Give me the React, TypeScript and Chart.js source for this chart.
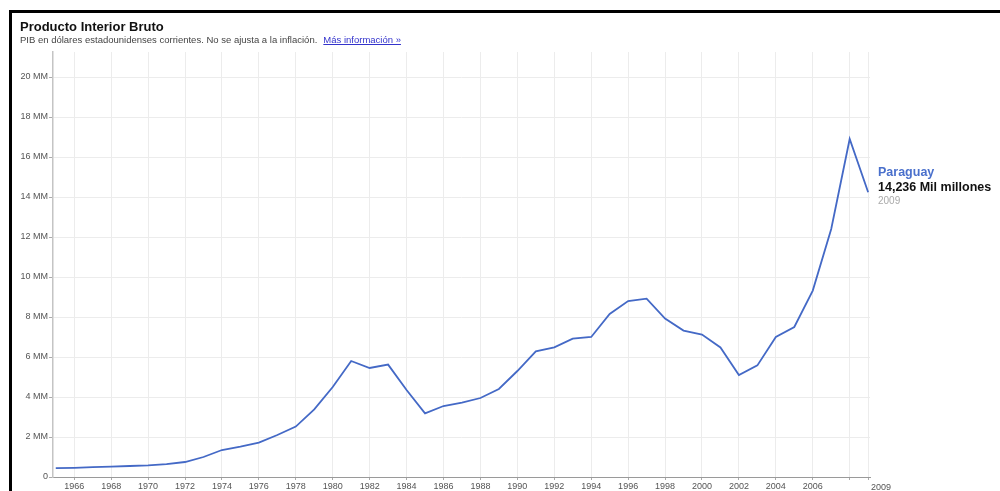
import React, { useEffect, useRef } from "react";
import { Chart, registerables } from "chart.js";

Chart.register(...registerables);

const years = [
  1965, 1966, 1967, 1968, 1969, 1970, 1971, 1972, 1973, 1974,
  1975, 1976, 1977, 1978, 1979, 1980, 1981, 1982, 1983, 1984,
  1985, 1986, 1987, 1988, 1989, 1990, 1991, 1992, 1993, 1994,
  1995, 1996, 1997, 1998, 1999, 2000, 2001, 2002, 2003, 2004,
  2005, 2006, 2007, 2008, 2009,
];

// GDP, billions of current US$ ("MM")
const gdpParaguay = [
  0.44, 0.46, 0.49, 0.52, 0.55, 0.58, 0.64, 0.75, 1.0, 1.35,
  1.52, 1.72, 2.1, 2.52, 3.38, 4.5, 5.8, 5.45, 5.62, 4.35,
  3.18, 3.55, 3.72, 3.95, 4.4, 5.3, 6.28, 6.48, 6.92, 7.0,
  8.15, 8.8, 8.92, 7.92, 7.32, 7.12, 6.48, 5.1, 5.58, 7.0,
  7.5, 9.32, 12.4, 16.9, 14.24,
];

const yTicks = [0, 2, 4, 6, 8, 10, 12, 14, 16, 18, 20];
const xTicks = [
  1966, 1968, 1970, 1972, 1974, 1976, 1978, 1980, 1982, 1984, 1986,
  1988, 1990, 1992, 1994, 1996, 1998, 2000, 2002, 2004, 2006, 2008, 2009,
];
const xLabelHidden = [2008, 2009];
const lastYearLabel = "2009";

const titleText = "Producto Interior Bruto";
const subtitleText =
  "PIB en dólares estadounidenses corrientes. No se ajusta a la inflación.";
const linkText = "Más información »";
const seriesName = "Paraguay";
const seriesValueText = "14,236 Mil millones";
const seriesYearText = "2009";

const FONT = "'Liberation Sans', Arial, sans-serif";
const LINE_COLOR = "#4469c6";

export default function App() {
  const canvasRef = useRef<HTMLCanvasElement | null>(null);

  useEffect(() => {
    if (!canvasRef.current) return;
    const endLabel = {
      id: "endLabel",
      afterDraw(chart: any) {
        const { ctx, chartArea } = chart;
        ctx.save();
        ctx.font = `9px ${FONT}`;
        ctx.fillStyle = "#555";
        ctx.textAlign = "left";
        ctx.textBaseline = "top";
        ctx.fillText(lastYearLabel, chartArea.right + 1, chartArea.bottom + 6);
        ctx.restore();
      },
    };
    const chart = new Chart(canvasRef.current, {
      type: "line",
      data: {
        datasets: [
          {
            label: seriesName,
            data: years.map((y, i) => ({ x: y, y: gdpParaguay[i] })),
            borderColor: LINE_COLOR,
            borderWidth: 1.8,
            pointRadius: 0,
            tension: 0,
            fill: false,
          },
        ],
      },
      options: {
        animation: false,
        responsive: false,
        maintainAspectRatio: false,
        devicePixelRatio: 1,
        layout: { padding: { left: 0, top: 52, right: 130, bottom: 0 } },
        plugins: { legend: { display: false }, tooltip: { enabled: false } },
        scales: {
          x: {
            type: "linear",
            min: 1964.85,
            max: 2009.1,
            afterBuildTicks: (s: any) => {
              s.ticks = xTicks.map((v) => ({ value: v }));
            },
            afterFit: (s: any) => {
              s.height = 14;
            },
            ticks: {
              autoSkip: false,
              maxRotation: 0,
              padding: 1,
              font: { family: FONT, size: 9 },
              color: "#555",
              callback: (v: any) =>
                xLabelHidden.includes(Number(v)) ? "" : String(v),
            },
            grid: {
              color: "#ececec",
              lineWidth: 1,
              tickLength: 3,
              tickColor: "#aaa",
            },
            border: { color: "#9a9a9a", width: 1 },
          },
          y: {
            type: "linear",
            min: 0,
            max: 21.25,
            afterBuildTicks: (s: any) => {
              s.ticks = yTicks.map((v) => ({ value: v }));
            },
            afterFit: (s: any) => {
              s.width = 53;
            },
            ticks: {
              padding: 1,
              font: { family: FONT, size: 9 },
              color: "#555",
              callback: (v: any) => (Number(v) === 0 ? "0" : `${v} MM`),
            },
            grid: {
              color: "#ececec",
              lineWidth: 1,
              tickLength: 4,
              tickColor: "#aaa",
            },
            border: { color: "#c4c4c4", width: 1.5 },
          },
        },
      },
      plugins: [endLabel],
    });
    return () => chart.destroy();
  }, []);

  return (
    <div
      style={{
        position: "absolute",
        left: 0,
        top: 0,
        width: 1000,
        height: 491,
        overflow: "hidden",
        background: "#fff",
        fontFamily: FONT,
      }}
    >
      <div
        style={{
          position: "absolute",
          left: 9,
          top: 10,
          width: 1000,
          height: 500,
          borderTop: "3px solid #000",
          borderLeft: "3px solid #000",
        }}
      />
      <canvas
        ref={canvasRef}
        width={1000}
        height={491}
        style={{ position: "absolute", left: 0, top: 0, width: 1000, height: 491 }}
      />
      <div
        style={{
          position: "absolute",
          left: 20,
          top: 19,
          fontSize: 13,
          fontWeight: "bold",
          color: "#111",
          whiteSpace: "nowrap",
          lineHeight: "15px",
        }}
      >
        {titleText}
      </div>
      <div
        style={{
          position: "absolute",
          left: 20,
          top: 34,
          fontSize: 9.5,
          color: "#444",
          whiteSpace: "nowrap",
          lineHeight: "11px",
        }}
      >
        {subtitleText}
        <span
          style={{
            marginLeft: 6,
            color: "#3333cc",
            textDecoration: "underline",
          }}
        >
          {linkText}
        </span>
      </div>
      <div
        style={{
          position: "absolute",
          left: 878,
          top: 165,
          whiteSpace: "nowrap",
          lineHeight: "15px",
        }}
      >
        <div style={{ fontSize: 12.5, fontWeight: "bold", color: "#4a70cc" }}>
          {seriesName}
        </div>
        <div style={{ fontSize: 12.5, fontWeight: "bold", color: "#111", lineHeight: "14px" }}>
          {seriesValueText}
        </div>
        <div style={{ fontSize: 10, color: "#aaa", lineHeight: "14px" }}>
          {seriesYearText}
        </div>
      </div>
    </div>
  );
}
